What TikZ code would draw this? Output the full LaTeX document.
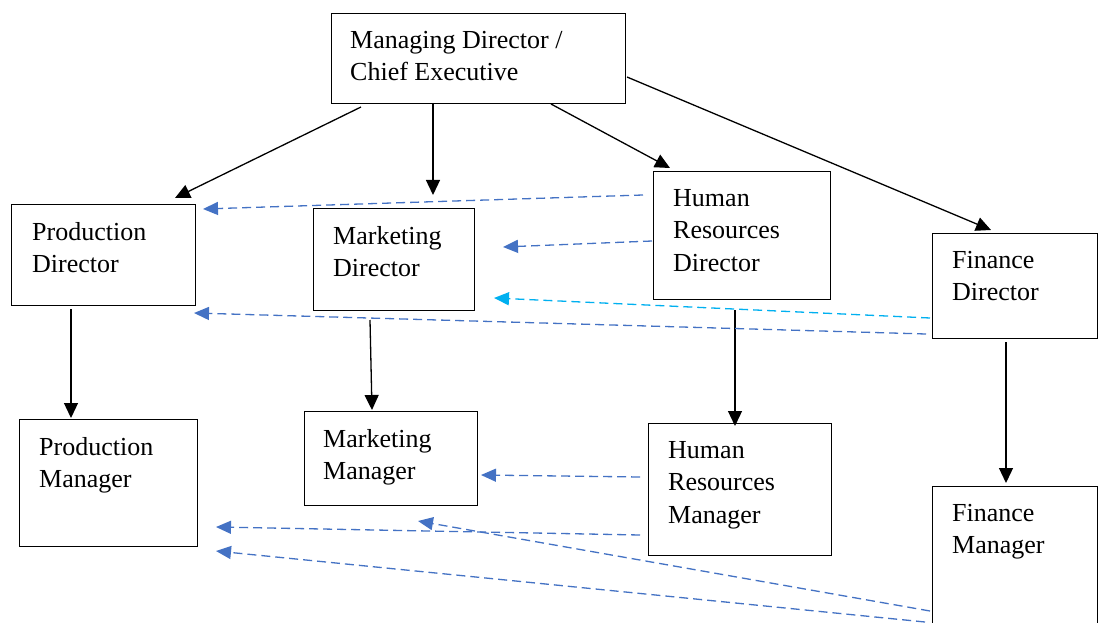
\documentclass[tikz,border=0pt]{standalone}
\usepackage{fontspec}
\setmainfont{Liberation Serif}
\usetikzlibrary{arrows.meta}
\definecolor{linkblue}{HTML}{4472C4}
\definecolor{linkcyan}{HTML}{00B0F0}
\begin{document}
\begin{tikzpicture}[x=1pt,y=-1pt,
  box/.style={draw=black,line width=1.3pt,anchor=north west,inner sep=0pt},
  lbl/.style={anchor=north west,inner sep=0pt,align=left,font=\fontsize{26}{32.5}\selectfont},
  solidarrow/.style={draw=black,line width=1.3pt,-{Triangle[length=15pt,width=14pt]}},
  dasharrow/.style={draw=linkblue,line width=1.3pt,dash pattern=on 9pt off 5pt,-{Triangle[length=15pt,width=13pt]}},
  cyanarrow/.style={dasharrow,draw=linkcyan}]
\useasboundingbox (0,0) rectangle (1098,623);
\fill[white] (0,0) rectangle (1098,623);

% boxes
\node[box,minimum width=294pt,minimum height=90pt] (md) at (331,13) {};
\node[box,minimum width=184pt,minimum height=101pt] (pd) at (11,204) {};
\node[box,minimum width=161pt,minimum height=102pt] (mkd) at (313,208) {};
\node[box,minimum width=177pt,minimum height=128pt] (hrd) at (653,171) {};
\node[box,minimum width=165pt,minimum height=105pt] (fd) at (932,233) {};
\node[box,minimum width=178pt,minimum height=127pt] (pm) at (19,419) {};
\node[box,minimum width=173pt,minimum height=94pt] (mkm) at (304,411) {};
\node[box,minimum width=183pt,minimum height=132pt] (hrm) at (648,423) {};
\node[box,minimum width=165pt,minimum height=170pt] (fm) at (932,486) {};

% labels
\node[lbl] (mdT) at (350,31) {Managing Director /\\Chief Executive};
\node[lbl] (pdT) at (32,222) {Production\\Director};
\node[lbl] (mkdT) at (333,226) {Marketing\\Director};
\node[lbl] (hrdT) at (673,189) {Human\\Resources\\Director};
\node[lbl] (fdT) at (952,251) {Finance\\Director};
\node[lbl] (pmT) at (39,437) {Production\\Manager};
\node[lbl] (mkmT) at (323,429) {Marketing\\Manager};
\node[lbl] (hrmT) at (668,441) {Human\\Resources\\Manager};
\node[lbl] (fmT) at (952,504) {Finance\\Manager};

% free ends of the connectors
\coordinate (a1s) at (361,107); \coordinate (a1e) at (175,198);
\coordinate (a2s) at (433,103); \coordinate (a2e) at (433,195);
\coordinate (a3s) at (551,104); \coordinate (a3e) at (670,168);
\coordinate (a4s) at (627,77);  \coordinate (a4e) at (991,230);
\coordinate (a5s) at (71,309);  \coordinate (a5e) at (71,418);
\coordinate (a6s) at (370,320); \coordinate (a6e) at (372,410);
\coordinate (a7s) at (735,310); \coordinate (a7e) at (735,426);
\coordinate (a8s) at (1006,342);\coordinate (a8e) at (1006,483);

\coordinate (b1s) at (643,195); \coordinate (b1e) at (203,209);
\coordinate (b2s) at (652,241); \coordinate (b2e) at (503,247);
\coordinate (b3s) at (930,318); \coordinate (b3e) at (494,298);
\coordinate (b4s) at (926,334); \coordinate (b4e) at (194,313);
\coordinate (b5s) at (640,477); \coordinate (b5e) at (481,475);
\coordinate (b6s) at (640,535); \coordinate (b6e) at (216,527);
\coordinate (b7s) at (930,611); \coordinate (b7e) at (418,521);
\coordinate (b8s) at (925,622); \coordinate (b8e) at (216,551);

% reporting lines
\draw[solidarrow] (a1s) -- (a1e);
\draw[solidarrow] (a2s) -- (a2e);
\draw[solidarrow] (a3s) -- (a3e);
\draw[solidarrow] (a4s) -- (a4e);
\draw[solidarrow] (a5s) -- (a5e);
\draw[solidarrow] (a6s) -- (a6e);
\draw[solidarrow] (a7s) -- (a7e);
\draw[solidarrow] (a8s) -- (a8e);

% cross-functional links
\draw[dasharrow] (b1s) -- (b1e);
\draw[dasharrow] (b2s) -- (b2e);
\draw[cyanarrow] (b3s) -- (b3e);
\draw[dasharrow] (b4s) -- (b4e);
\draw[dasharrow] (b5s) -- (b5e);
\draw[dasharrow] (b6s) -- (b6e);
\draw[dasharrow] (b7s) -- (b7e);
\draw[dasharrow] (b8s) -- (b8e);
\end{tikzpicture}
\end{document}
